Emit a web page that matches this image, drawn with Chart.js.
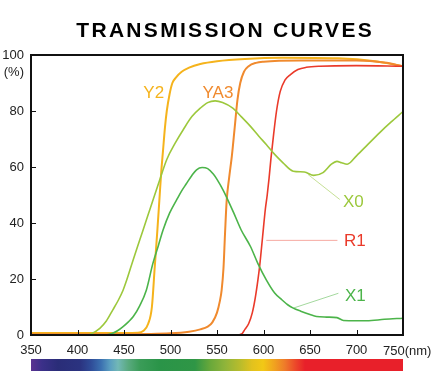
<!DOCTYPE html>
<html>
<head>
<meta charset="utf-8">
<script src="https://cdn.jsdelivr.net/npm/chart.js@4.4.0/dist/chart.umd.min.js"></script>
<style>
  html, body { margin: 0; padding: 0; background: #fff; }
  #wrap { width: 440px; height: 371px; }
</style>
</head>
<body>
<div id="wrap"><canvas id="chart" width="440" height="371"></canvas></div>
<script>
// tick labels
const xTicks = [350, 400, 450, 500, 550, 600, 650, 700, 750];
const yTicks = [0, 20, 40, 60, 80, 100];

// series: wavelength (nm) and transmission (%)
const y2Nm  = [350, 400, 450, 465, 471, 476, 480, 483, 486, 488, 490, 492, 494, 496, 499, 502, 506, 512, 520, 532, 550, 580, 620, 680, 720, 750];
const y2Pct = [0.7, 0.7, 0.7, 0.8, 1.5, 4, 10, 24, 38, 48, 58, 66, 74, 80, 86, 90, 92, 94, 95.5, 96.8, 97.8, 98.6, 99, 98.8, 97.8, 96];

const ya3Nm  = [350, 450, 500, 520, 532, 540, 545, 550, 553, 555, 557, 558.6, 560.4, 563, 566, 569, 572, 575, 579, 584, 592, 600, 640, 700, 730, 750];
const ya3Pct = [0.3, 0.3, 0.6, 1.2, 2, 3, 4.5, 8, 12, 16, 24, 36, 48, 56, 64, 74, 84, 90, 94, 96, 97.2, 97.6, 98, 98, 97.3, 96];

const r1Nm  = [350, 570, 577, 580, 584, 588, 591, 594, 596, 599, 602, 604, 606, 608, 611, 614, 618, 623, 629, 637, 646, 660, 700, 750];
const r1Pct = [0, 0, 0.5, 2, 4, 8, 13, 19.7, 25, 35, 45, 50, 56, 63, 72, 80, 87, 91, 93, 94.8, 95.6, 96, 96.2, 96];

const x0Nm  = [350, 410, 415, 424, 431, 438, 444, 449, 453, 460, 467, 473, 478, 482, 489, 496, 505, 514, 523, 532, 540, 548, 556, 567, 576, 586, 595, 603, 612, 621, 632, 644, 654, 664, 673, 679, 684, 690, 700, 712, 725, 737, 750];
const x0Pct = [0, 0, 0.5, 2.4, 5, 9, 12.5, 16, 19.7, 27, 34, 40, 45, 49, 56, 62.7, 68.5, 73.5, 78, 81, 83, 83.6, 83, 81, 78, 74.5, 71, 68, 64.5, 61.5, 58.5, 58.2, 57, 58, 61, 62, 61.5, 61, 64, 68, 72.3, 76, 79.8];

const x1Nm  = [350, 430, 437, 443, 449, 455, 460, 467, 474, 481, 487, 492, 499, 507, 512, 517, 523, 528, 534, 540, 546, 550, 557, 562, 568, 576, 586, 594, 603, 612, 620, 626, 632, 640, 650, 657, 668, 679, 686, 700, 711, 730, 750];
const x1Pct = [0, 0, 0.5, 1.5, 3, 4.8, 6.6, 10.5, 16, 25.5, 32, 37.5, 43.5, 48.5, 51.5, 54, 57, 59, 59.8, 59.4, 57.5, 55.6, 51.5, 48, 43.6, 37.5, 31.6, 25.5, 19.7, 15, 12.5, 10.8, 9.6, 8.5, 7.3, 6.6, 6.4, 6.2, 5.2, 5.1, 5.1, 5.6, 6];

// label placement (data units) and leader lines
const curveLabels = [
    { text: 'Y2',  color: '#f5b31c', nm: 482, pct: 86.6, align: 'center' },
    { text: 'YA3', color: '#f08a2e', nm: 551, pct: 86.6, align: 'center' },
    { text: 'X0',  color: '#9cc83c', nm: 685.5, pct: 47.8, align: 'left', from: [648, 57.3], to: [682, 48.4], lead: '#c6e096' },
    { text: 'R1',  color: '#ea3a2a', nm: 686.6, pct: 33.7, align: 'left', from: [603, 33.8], to: [679.5, 33.8], lead: '#f6aaa2' },
    { text: 'X1',  color: '#4cb44a', nm: 687.6, pct: 14.3, align: 'left', from: [632, 9.6], to: [680.5, 14.9], lead: '#a4d99e' }
];

function pts(nm, pct) {
    return nm.map((v, i) => ({ x: v, y: pct[i] }));
}

function series(label, nm, pct, color, width) {
    return {
        label: label,
        data: pts(nm, pct),
        borderColor: color,
        borderWidth: width,
        pointRadius: 0,
        fill: false,
        cubicInterpolationMode: 'monotone'
    };
}

const TICK_FONT = { family: '"Liberation Sans", Arial, sans-serif', size: 13 };

const decor = {
    id: 'decor',
    beforeDraw(chart) {
        const ctx = chart.ctx;
        ctx.save();
        ctx.fillStyle = '#fff';
        ctx.fillRect(0, 0, chart.width, chart.height);
        ctx.restore();
    },
    beforeDatasetsDraw(chart) {
        const { ctx, scales: { x, y } } = chart;
        ctx.save();
        ctx.lineWidth = 1;
        curveLabels.forEach(l => {
            if (!l.from) return;
            ctx.strokeStyle = l.lead;
            ctx.beginPath();
            ctx.moveTo(x.getPixelForValue(l.from[0]), y.getPixelForValue(l.from[1]));
            ctx.lineTo(x.getPixelForValue(l.to[0]), y.getPixelForValue(l.to[1]));
            ctx.stroke();
        });
        ctx.restore();
    },
    afterDatasetsDraw(chart) {
        const { ctx, chartArea: a, scales: { x, y } } = chart;
        ctx.save();

        // frame
        ctx.strokeStyle = '#111';
        ctx.lineWidth = 2;
        ctx.strokeRect(a.left, a.top, a.right - a.left, a.bottom - a.top);

        // inner tick marks
        ctx.lineWidth = 1;
        xTicks.slice(1, -1).forEach(v => {
            const px = Math.round(x.getPixelForValue(v)) + 0.5;
            ctx.beginPath();
            ctx.moveTo(px, a.bottom);
            ctx.lineTo(px, a.bottom - 5);
            ctx.stroke();
        });
        yTicks.slice(1, -1).forEach(v => {
            const py = Math.round(y.getPixelForValue(v)) + 0.5;
            ctx.beginPath();
            ctx.moveTo(a.left, py);
            ctx.lineTo(a.left + 5, py);
            ctx.stroke();
        });

        // curve names
        ctx.font = '17px "Liberation Sans", Arial, sans-serif';
        ctx.textBaseline = 'middle';
        curveLabels.forEach(l => {
            ctx.fillStyle = l.color;
            ctx.textAlign = l.align;
            ctx.fillText(l.text, x.getPixelForValue(l.nm), y.getPixelForValue(l.pct) + 1);
        });

        // axis extras
        ctx.fillStyle = '#222';
        ctx.font = '13px "Liberation Sans", Arial, sans-serif';
        ctx.textAlign = 'right';
        ctx.fillText('(%)', a.left - 7, y.getPixelForValue(100) + 17);
        ctx.textAlign = 'left';
        ctx.fillText(xTicks[xTicks.length - 1] + '(nm)', x.getPixelForValue(750) - 20, a.bottom + 16);

        // spectrum strip
        const g = ctx.createLinearGradient(a.left, 0, a.right, 0);
        const w = a.right - a.left;
        const stops = [
            [31, '#5b3391'], [42, '#3b3089'], [58, '#2a2d78'], [80, '#2b3380'],
            [91, '#2f4c98'], [101, '#3b70b0'], [110, '#5a9ec0'], [118, '#72b8b6'],
            [128, '#5aaa80'], [140, '#3a9c58'], [160, '#2a9448'], [195, '#2f9646'],
            [210, '#68a83a'], [225, '#8fb43a'], [240, '#b8bc2c'], [252, '#e2c21e'],
            [263, '#f2c816'], [275, '#f0a020'], [285, '#ee7a2a'], [295, '#ec4a2a'],
            [305, '#e8202a'], [403, '#e8202a']
        ];
        stops.forEach(s => g.addColorStop(Math.min(1, Math.max(0, (s[0] - 31) / 372)), s[1]));
        ctx.fillStyle = g;
        ctx.fillRect(a.left, 359, w, 12);

        // title
        ctx.fillStyle = '#000';
        ctx.font = 'bold 21px "Liberation Sans", Arial, sans-serif';
        ctx.textAlign = 'left';
        ctx.textBaseline = 'alphabetic';
        const title = 'TRANSMISSION CURVES';
        ctx.letterSpacing = '2.3px';
        const tw = ctx.measureText(title).width - 2.3;
        ctx.fillText(title, 224 - tw / 2, 37);
        ctx.restore();
    }
};

const chart = new Chart(document.getElementById('chart').getContext('2d'), {
    type: 'line',
    data: {
        datasets: [
            series('X0', x0Nm, x0Pct, '#9cc83c', 1.6),
            series('X1', x1Nm, x1Pct, '#4cb44a', 1.6),
            series('R1', r1Nm, r1Pct, '#ea3a2a', 1.6),
            series('YA3', ya3Nm, ya3Pct, '#f08a2e', 2),
            series('Y2', y2Nm, y2Pct, '#f5b31c', 2)
        ]
    },
    options: {
        responsive: false,
        devicePixelRatio: 1,
        animation: false,
        layout: { padding: { top: 55, right: 37, left: 0, bottom: 0 } },
        plugins: {
            legend: { display: false },
            tooltip: { enabled: false }
        },
        scales: {
            x: {
                type: 'linear',
                min: 350,
                max: 750,
                afterFit: s => { s.height = 36; },
                afterBuildTicks: s => { s.ticks = xTicks.map(v => ({ value: v })); },
                grid: { display: false, drawTicks: false },
                border: { display: false },
                ticks: {
                    padding: 8,
                    color: '#222',
                    font: TICK_FONT,
                    maxRotation: 0,
                    autoSkip: false,
                    callback: v => (v === xTicks[xTicks.length - 1] ? '' : String(v))
                }
            },
            y: {
                min: 0,
                max: 100,
                afterFit: s => { s.width = 31; },
                afterBuildTicks: s => { s.ticks = yTicks.map(v => ({ value: v })); },
                grid: { display: false, drawTicks: false },
                border: { display: false },
                ticks: {
                    padding: 7,
                    color: '#222',
                    font: TICK_FONT,
                    callback: v => String(v)
                }
            }
        }
    },
    plugins: [decor]
});
</script>
</body>
</html>
